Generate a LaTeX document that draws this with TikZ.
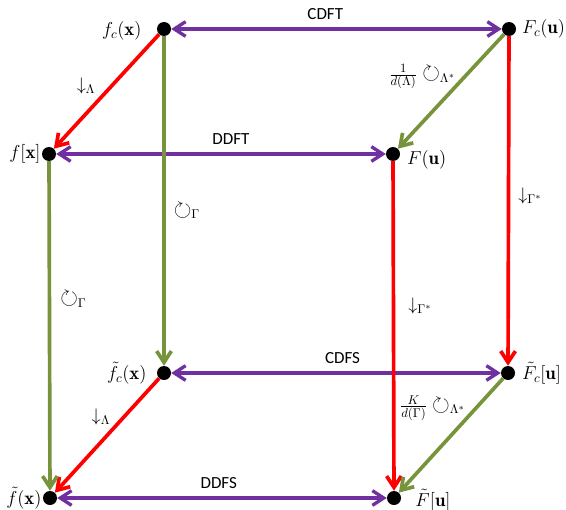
\RequirePackage{fix-cm}
\documentclass[tikz,border=0pt]{standalone}
\usepackage{amsmath}
\usepackage{amssymb}
\usepackage{fontspec}
\setsansfont{Carlito}
\usepackage{tikz}
\usepackage{xcolor}
\usetikzlibrary{positioning,arrows.meta}
\definecolor{dftpurple}{RGB}{112,48,160}
\definecolor{sampred}{RGB}{255,0,0}
\definecolor{pergreen}{RGB}{119,147,60}
\newcommand{\perarrow}{\mathrel{\scalebox{1.25}{$\circlearrowright$}}}

\begin{document}
\begin{tikzpicture}[
      x=0.03cm, y=-0.03cm,
      >={Straight Barb[length=0.34cm,width=0.44cm]},
      dot/.style={circle, fill=black, inner sep=0pt, minimum size=0.42cm},
      lab/.style={inner sep=0pt, font=\fontsize{16}{18}\selectfont},
      elab/.style={inner sep=0pt, font=\fontsize{15.5}{18}\selectfont},
      tag/.style={inner sep=0pt, font=\sffamily\fontsize{14.5}{16}\selectfont},
      dft/.style={<->, line width=0.1cm, draw=dftpurple},
      samp/.style={->, line width=0.11cm, draw=sampred},
      per/.style={->, line width=0.11cm, draw=pergreen}
    ]
      \useasboundingbox (0,0) rectangle (566,510);
      % corners of the cube
      \node[dot] (fc) at (164,29) {};
      \node[dot] (Fc) at (509,29) {};
      \node[dot] (f) at (49,154) {};
      \node[dot] (F) at (393,154) {};
      \node[dot] (ftc) at (164,373) {};
      \node[dot] (Ftc) at (508,373) {};
      \node[dot] (ft) at (50,498) {};
      \node[dot] (Ft) at (394,498) {};
      \node[lab, left=0.45cm of fc, yshift=-0.06cm] (fcl) {$f_c(\mathbf{x})$};
      \node[lab, right=0.17cm of Fc] (Fcl) {$F_c(\mathbf{u})$};
      \node[lab, left=0.03cm of f] (fl) {$f[\mathbf{x}]$};
      \node[lab, right=0.2cm of F, yshift=-0.18cm] (Fl) {$F(\mathbf{u})$};
      \node[lab, left=0.3cm of ftc] (ftcl) {$\tilde{f}_c(\mathbf{x})$};
      \node[lab, right=0.2cm of Ftc] (Ftcl) {$\tilde{F}_c[\mathbf{u}]$};
      \node[lab, left=0.03cm of ft] (ftl) {$\tilde{f}(\mathbf{x})$};
      \node[lab, right=0.42cm of Ft, yshift=-0.06cm] (Ftl) {$\tilde{F}[\mathbf{u}]$};
      % transforms
      \draw[dft] (fc) -- node[tag, pos=0.466, above=0.24cm] (cdft) {CDFT} (Fc);
      \draw[dft] (f) -- node[tag, pos=0.53, above=0.24cm] (ddft) {DDFT} (F);
      \draw[dft] (ftc) -- node[tag, pos=0.52, above=0.24cm] (cdfs) {CDFS} (Ftc);
      \draw[dft] (ft) -- node[tag, pos=0.49, above=0.24cm] (ddfs) {DDFS} (Ft);
      % sampling and periodization
      \draw[samp] (fc) -- node[elab, pos=0.45, left=0.44cm] (s1) {$\downarrow_{\Lambda}$} (f);
      \draw[samp] (ftc) -- node[elab, pos=0.34, left=0.35cm] (s2) {$\downarrow_{\Lambda}$} (ft);
      \draw[samp] (Fc) -- node[elab, pos=0.485, right=0.24cm] (s3) {$\downarrow_{\Gamma^*}$} (Ftc);
      \draw[samp] (F) -- node[elab, pos=0.44, right=0.39cm] (s4) {$\downarrow_{\Gamma^*}$} (Ft);
      \draw[per] (fc) -- node[elab, pos=0.53, right=0.24cm] (p1) {$\perarrow_{\Gamma}$} (ftc);
      \draw[per] (f) -- node[elab, pos=0.42, right=0.27cm] (p2) {$\perarrow_{\Gamma}$} (ft);
      \draw[per] (Fc) -- node[elab, pos=0.37, left=0.23cm] (p3) {$\frac{1}{d(\Lambda)}\perarrow_{\Lambda^*}$} (F);
      \draw[per] (Ftc) -- node[elab, pos=0.26, left=0.27cm] (p4) {$\frac{K}{d(\Gamma)}\perarrow_{\Lambda^*}$} (Ft);
    \end{tikzpicture}
\end{document}
